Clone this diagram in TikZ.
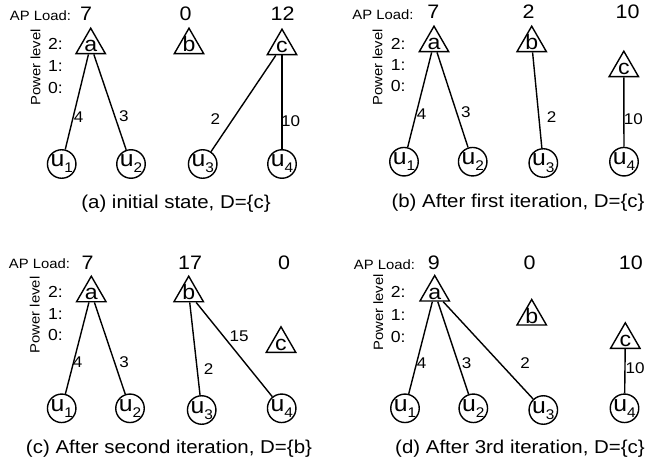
\documentclass[tikz,border=0pt]{standalone}
\usepackage{fontspec}
\setmainfont{Liberation Sans}[FakeStretch=1.1]
\usetikzlibrary{shapes.geometric}

\newcommand\fsz[1]{\fontsize{#1}{#1}\selectfont}
% letter inside an access-point triangle, sitting just above the base
\newcommand\aplabel[1]{\makebox[0pt]{\raisebox{-6.5pt}[0pt][0pt]{\fsz{21}#1}}}
% user name u_i inside a circle
\newcommand\userlabel[1]{\makebox[0pt]{\raisebox{-3pt}[0pt][0pt]{\fsz{22.5}u\raisebox{-6pt}{\fsz{14}#1}}}}

\tikzset{
  ap/.style={draw, regular polygon, regular polygon sides=3, minimum size=34pt,
             inner sep=0pt, line width=1.4pt},
  user/.style={draw, circle, minimum size=28.5pt, inner sep=0pt, line width=1.4pt},
  link/.style={line width=1.4pt},
  hdr/.style={font=\fsz{13.5}, inner sep=0pt},
  load/.style={font=\fsz{19.5}, inner sep=0pt},
  lvl/.style={font=\fsz{16}, inner sep=0pt, anchor=west},
  axislbl/.style={font=\fsz{13.5}, inner sep=0pt, rotate=90},
  wt/.style={font=\fsz{15.5}, inner sep=0pt},
  subcap/.style={font=\fsz{18.6}, inner sep=0pt}
}

\begin{document}
\begin{tikzpicture}[x=1pt,y=-1pt]
\useasboundingbox (0,0) rectangle (658,465);

% ---------------- (a) initial state ----------------
\node[hdr] (hA) at (40.5,15.8) {AP Load:};
\node[load] (lAa) at (86,14) {7};
\node[load] (lAb) at (185.7,14) {0};
\node[load] (lAc) at (282.5,14) {12};
\node[axislbl] (pA) at (35.5,67.5) {Power level};
\node[lvl] (vA2) at (48,44.3) {2:};
\node[lvl] (vA1) at (48,66.2) {1:};
\node[lvl] (vA0) at (48,88) {0:};
\node[ap] (Aa) at (90.7,45.2) {\aplabel{a}};
\node[ap] (Ab) at (189,45.2) {\aplabel{b}};
\node[ap] (Ac) at (282,46.2) {\aplabel{c}};
\node[user] (Au1) at (61.7,164) {\userlabel{1}};
\node[user] (Au2) at (131,164) {\userlabel{2}};
\node[user] (Au3) at (202.7,164) {\userlabel{3}};
\node[user] (Au4) at (282,164) {\userlabel{4}};
\draw[link] (Aa) -- (Au1);
\draw[link] (Aa) -- (Au2);
\draw[link] (Ac) -- (Au3);
\draw[link] (Ac) -- (Au4);
\node[wt] (wA1) at (78.7,117.2) {4};
\node[wt] (wA2) at (123.8,115.8) {3};
\node[wt] (wA3) at (215.3,119.2) {2};
\node[wt] (wA4) at (290.5,120.8) {10};
\node[subcap] (cA) at (176,204) {(a) initial state, D=\{c\}};

% ---------------- (b) after first iteration ----------------
\node[hdr] (hB) at (383,14.2) {AP Load:};
\node[load] (lBa) at (433.3,11.7) {7};
\node[load] (lBb) at (528.7,11.7) {2};
\node[load] (lBc) at (627.5,11.7) {10};
\node[axislbl] (pB) at (377.5,67.5) {Power level};
\node[lvl] (vB2) at (390.7,43.5) {2:};
\node[lvl] (vB1) at (390.7,64.5) {1:};
\node[lvl] (vB0) at (390.7,86) {0:};
\node[ap] (Ba) at (434,43.2) {\aplabel{a}};
\node[ap] (Bb) at (531.7,43.2) {\aplabel{b}};
\node[ap] (Bc) at (623.8,68.2) {\aplabel{c}};
\node[user] (Bu1) at (404,161.7) {\userlabel{1}};
\node[user] (Bu2) at (472.7,161.7) {\userlabel{2}};
\node[user] (Bu3) at (543.3,163) {\userlabel{3}};
\node[user] (Bu4) at (624,161.7) {\userlabel{4}};
\draw[link] (Ba) -- (Bu1);
\draw[link] (Ba) -- (Bu2);
\draw[link] (Bb) -- (Bu3);
\draw[link] (Bc) -- (Bu4);
\node[wt] (wB1) at (421.7,113.8) {4};
\node[wt] (wB2) at (465.8,112) {3};
\node[wt] (wB3) at (551.7,117.5) {2};
\node[wt] (wB4) at (633.3,119.2) {10};
\node[subcap] (cB) at (518,203) {(b) After first iteration, D=\{c\}};

% ---------------- (c) after second iteration ----------------
\node[hdr] (hC) at (39.5,263.7) {AP Load:};
\node[load] (lCa) at (87.5,262.5) {7};
\node[load] (lCb) at (190,262.5) {17};
\node[load] (lCc) at (284.2,262.5) {0};
\node[axislbl] (pC) at (34.7,315) {Power level};
\node[lvl] (vC2) at (48,291.7) {2:};
\node[lvl] (vC1) at (48,313.7) {1:};
\node[lvl] (vC0) at (48,335) {0:};
\node[ap] (Ca) at (91.3,293.2) {\aplabel{a}};
\node[ap] (Cb) at (188.7,293.2) {\aplabel{b}};
\node[ap] (Cc) at (281,343.8) {\aplabel{c}};
\node[user] (Cu1) at (61.7,408.3) {\userlabel{1}};
\node[user] (Cu2) at (130,408.3) {\userlabel{2}};
\node[user] (Cu3) at (201.7,410) {\userlabel{3}};
\node[user] (Cu4) at (281.7,408.3) {\userlabel{4}};
\draw[link] (Ca) -- (Cu1);
\draw[link] (Ca) -- (Cu2);
\draw[link] (Cb) -- (Cu3);
\draw[link] (Cb) -- (Cu4);
\node[wt] (wC1) at (77.5,362.5) {4};
\node[wt] (wC2) at (124.2,362.5) {3};
\node[wt] (wC3) at (208.7,369.2) {2};
\node[wt] (wC4) at (239.2,335.8) {15};
\node[subcap] (cC) at (169,448.3) {(c) After second iteration, D=\{b\}};

% ---------------- (d) after 3rd iteration ----------------
\node[hdr] (hD) at (384.5,264.5) {AP Load:};
\node[load] (lDa) at (433.8,262.8) {9};
\node[load] (lDb) at (529.7,262.8) {0};
\node[load] (lDc) at (630.8,262.8) {10};
\node[axislbl] (pD) at (378.3,312.5) {Power level};
\node[lvl] (vD2) at (390.7,291.7) {2:};
\node[lvl] (vD1) at (390.7,315) {1:};
\node[lvl] (vD0) at (390.7,336.7) {0:};
\node[ap] (Da) at (434.7,292.5) {\aplabel{a}};
\node[ap] (Db) at (531.7,316.5) {\aplabel{b}};
\node[ap] (Dc) at (625.3,339.8) {\aplabel{c}};
\node[user] (Du1) at (405,408.3) {\userlabel{1}};
\node[user] (Du2) at (473.3,408.3) {\userlabel{2}};
\node[user] (Du3) at (543.3,410) {\userlabel{3}};
\node[user] (Du4) at (624.5,408.3) {\userlabel{4}};
\draw[link] (Da) -- (Du1);
\draw[link] (Da) -- (Du2);
\draw[link] (Da) -- (Du3);
\draw[link] (Dc) -- (Du4);
\node[wt] (wD1) at (421.7,363.3) {4};
\node[wt] (wD2) at (466.7,363.3) {3};
\node[wt] (wD3) at (525,363.3) {2};
\node[wt] (wD4) at (635,368.3) {10};
\node[subcap] (cD) at (520,448.3) {(d) After 3rd iteration, D=\{c\}};
\end{tikzpicture}
\end{document}
